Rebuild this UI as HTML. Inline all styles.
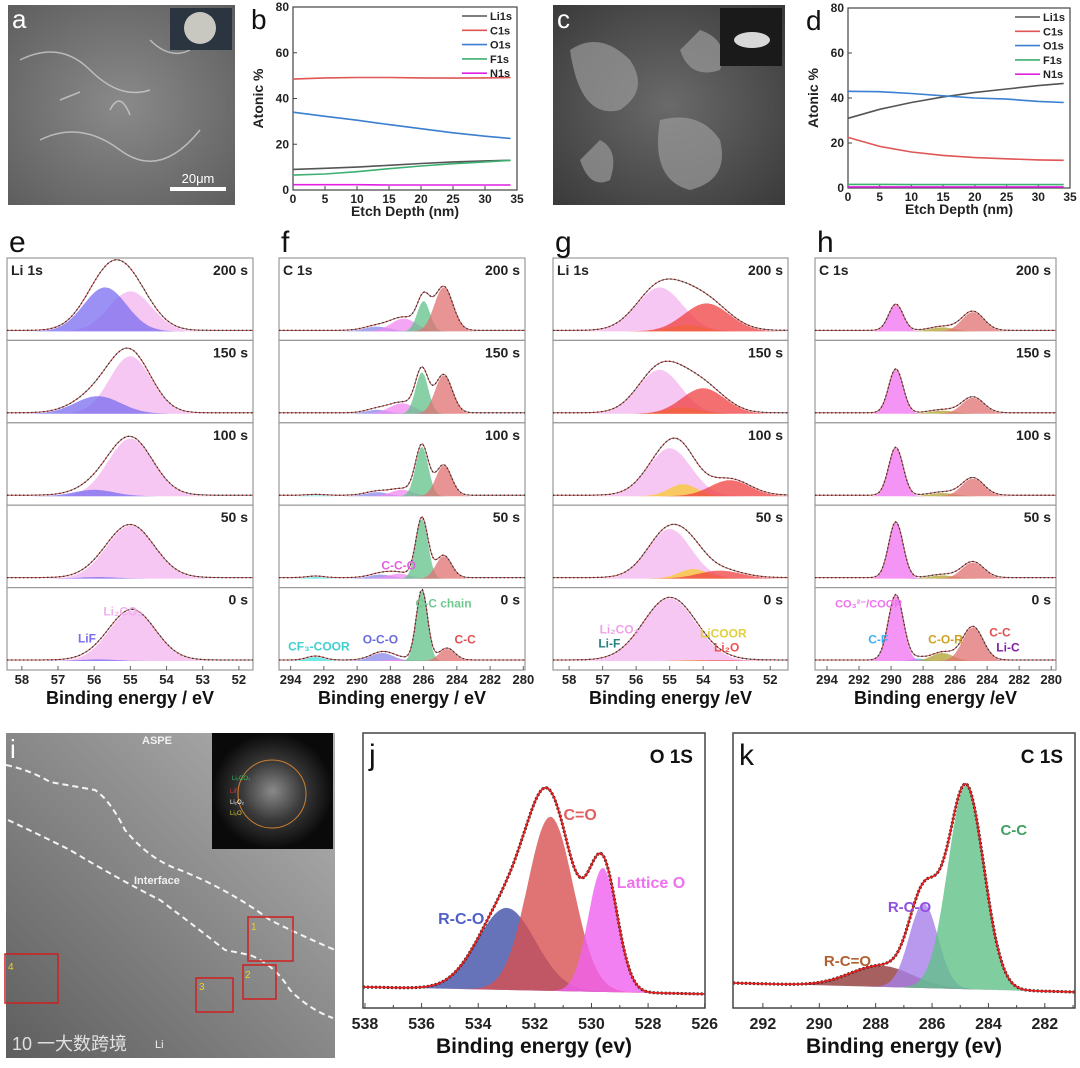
<!DOCTYPE html>
<html><head><meta charset="utf-8">
<style>
html,body{margin:0;padding:0;background:#fff;}
svg{display:block;font-family:"Liberation Sans",Arial,sans-serif;}
</style></head>
<body>
<svg id="fig" width="1080" height="1068" viewBox="0 0 1080 1068" xmlns="http://www.w3.org/2000/svg">
<defs>
<radialGradient id="semA" cx="50%" cy="50%" r="70%"><stop offset="0" stop-color="#8a8a8a"/><stop offset="1" stop-color="#5e5e5e"/></radialGradient>
<radialGradient id="semC" cx="50%" cy="50%" r="70%"><stop offset="0" stop-color="#6a6a6a"/><stop offset="1" stop-color="#3a3a3a"/></radialGradient>
<linearGradient id="temI" x1="1" y1="0" x2="0" y2="1"><stop offset="0" stop-color="#b4b4b4"/><stop offset="0.45" stop-color="#8c8c8c"/><stop offset="1" stop-color="#5e5e5e"/></linearGradient>
<radialGradient id="fft" cx="50%" cy="50%" r="50%"><stop offset="0" stop-color="#8a8a8a"/><stop offset="0.5" stop-color="#3a3a3a"/><stop offset="1" stop-color="#0a0a0a"/></radialGradient>
</defs>

<g>
<rect x="8" y="5" width="227" height="200" fill="url(#semA)"/>
<path d="M20 60 Q60 40 90 70 T150 90 M40 140 Q80 120 120 150 T200 130 M110 110 q10 -20 20 5 M60 100 l20 -8 M150 40 q20 20 40 10" stroke="#d8d8d8" stroke-width="1.5" fill="none" opacity="0.7"/>
<rect x="170" y="8" width="62" height="42" fill="#2a3540"/>
<circle cx="200" cy="28" r="16" fill="#c8c8c0"/>
<rect x="170" y="187" width="56" height="4" fill="#fff"/>
<text x="198" y="183" font-size="13" fill="#fff" text-anchor="middle">20μm</text>
<text x="12" y="28" font-size="26" fill="#fff">a</text>
</g>

<g>
<rect x="553" y="5" width="232" height="200" fill="url(#semC)"/>
<path d="M570 50 q30 -20 60 10 q20 30 -10 50 q-40 10 -50 -60 Z M660 120 q40 -10 60 20 q10 40 -30 50 q-40 -10 -30 -70 Z M600 140 q20 10 10 40 q-20 10 -30 -20 Z M700 30 q30 10 20 40 q-30 10 -40 -20 Z" fill="#9a9a9a" opacity="0.7"/>
<rect x="720" y="8" width="62" height="58" fill="#1a1a1a"/>
<ellipse cx="752" cy="40" rx="18" ry="8" fill="#d8d8d8"/>
<text x="557" y="28" font-size="26" fill="#fff">c</text>
</g>

<g>
<rect x="6" y="733" width="329" height="325" fill="url(#temI)"/>
<path d="M6 765 Q30 770 50 782 L95 790 Q110 800 125 830 Q150 860 180 870 Q230 890 270 920 Q300 935 335 950" stroke="#f4f4f4" stroke-width="2" stroke-dasharray="6,4" fill="none"/>
<path d="M8 820 Q40 835 70 850 Q120 880 160 900 Q200 930 225 950 L250 955 Q275 965 290 990 Q310 1010 333 1018" stroke="#f4f4f4" stroke-width="2" stroke-dasharray="6,4" fill="none"/>
<text x="142" y="744" font-size="11" font-weight="bold" fill="#f0f0f0">ASPE</text>
<text x="134" y="884" font-size="11" font-weight="bold" fill="#f0f0f0">Interface</text>
<text x="155" y="1048" font-size="11" fill="#f0f0f0">Li</text>
<text x="12" y="1050" font-size="18" fill="#fff" opacity="0.8" font-family="'Liberation Sans','Noto Sans CJK SC',sans-serif">10 一大数跨境</text>
<rect x="248" y="917" width="45" height="44" fill="none" stroke="#d02020" stroke-width="1.5"/>
<rect x="243" y="965" width="33" height="34" fill="none" stroke="#d02020" stroke-width="1.5"/>
<rect x="196" y="978" width="37" height="34" fill="none" stroke="#d02020" stroke-width="1.5"/>
<rect x="5" y="954" width="53" height="49" fill="none" stroke="#d02020" stroke-width="1.5"/>
<text x="251" y="930" font-size="10" fill="#f0d020">1</text>
<text x="245" y="978" font-size="10" fill="#f0d020">2</text>
<text x="199" y="990" font-size="10" fill="#f0d020">3</text>
<text x="8" y="970" font-size="10" fill="#f0d020">4</text>
<g>
<rect x="212" y="733" width="121" height="116" fill="url(#fft)"/>
<circle cx="272" cy="794" r="34" fill="none" stroke="#d08030" stroke-width="1"/>
<text x="232" y="780" font-size="6" fill="#30c060">Li₂CO₃</text>
<text x="230" y="793" font-size="6" fill="#e03030">LiF</text>
<text x="230" y="804" font-size="6" fill="#fff">Li₂O₂</text>
<text x="230" y="815" font-size="6" fill="#e0d030">Li₂O</text>
</g>
<text x="10" y="758" font-size="26" fill="#fff">i</text>
</g>

<g id="charts"></g>
</svg>

<script>
const depths = [0, 5, 10, 15, 20, 25, 30, 34];
const bLi = [9, 9.5, 10, 10.8, 11.6, 12.3, 12.7, 13];
const bC = [48.5, 49, 49.2, 49.2, 49, 48.9, 49, 49.2];
const bO = [34, 32.2, 30.5, 28.6, 26.8, 25, 23.5, 22.5];
const bF = [6.5, 7, 8, 9.3, 10.5, 11.5, 12.3, 13];
const bN = [2.3, 2.3, 2.3, 2.2, 2.2, 2.2, 2.2, 2.2];
const dLi = [31, 35, 38, 40.5, 42.5, 44, 45.5, 46.5];
const dC = [22.5, 18.5, 16, 14.5, 13.5, 13, 12.5, 12.3];
const dO = [43, 42.8, 42, 41, 40, 39.5, 38.5, 38];
const dF = [1.6, 1.6, 1.5, 1.5, 1.5, 1.5, 1.5, 1.5];
const dN = [0.5, 0.5, 0.5, 0.5, 0.5, 0.5, 0.5, 0.5];
const depthTicks = [0, 5, 10, 15, 20, 25, 30, 35];
const atomicTicks = [0, 20, 40, 60, 80];
const elementNames = ["Li1s", "C1s", "O1s", "F1s", "N1s"];

const timeLabels = ["200 s", "150 s", "100 s", "50 s", "0 s"];
const liTicks = [58, 57, 56, 55, 54, 53, 52];
const cTicks = [294, 292, 290, 288, 286, 284, 282, 280];
const eLiF = [[55.7, 0.55, 1.4], [55.9, 0.22, 1.5], [56.0, 0.08, 1.3], [55.9, 0.02, 1.2], [55.9, 0.02, 1.2]];
const eLi2CO3 = [[55.0, 0.5, 1.4], [55.0, 0.72, 1.35], [55.0, 0.72, 1.45], [55.0, 0.66, 1.55], [54.95, 0.63, 1.5]];
const fCC = [[284.8, 0.55, 1.3], [284.8, 0.48, 1.2], [284.8, 0.38, 1.1], [284.8, 0.28, 1.1], [284.6, 0.15, 1.1]];
const fChain = [[286.0, 0.38, 0.9], [286.1, 0.52, 0.9], [286.1, 0.62, 0.9], [286.1, 0.75, 0.85], [286.1, 0.88, 0.8]];
const fCCO = [[287.2, 0.16, 1.8], [287.3, 0.13, 1.8], [287.3, 0.08, 1.6], [287.5, 0.06, 1.6], [287.5, 0.02, 1.6]];
const fOCO = [[288.8, 0.06, 1.8], [288.8, 0.05, 1.6], [288.8, 0.05, 1.6], [288.6, 0.05, 1.6], [288.5, 0.1, 1.6]];
const fCF3 = [[292.5, 0.0, 1.2], [292.5, 0.0, 1.2], [292.5, 0.01, 1.2], [292.5, 0.02, 1.2], [292.5, 0.05, 1.2]];
const gLi2CO3 = [[55.3, 0.55, 1.6], [55.3, 0.55, 1.5], [55.0, 0.6, 1.5], [55.0, 0.62, 1.5], [55.0, 0.78, 1.85]];
const gLi2O = [[53.9, 0.35, 1.6], [54.0, 0.32, 1.5], [53.2, 0.2, 1.4], [53.5, 0.1, 1.5], [53.5, 0.01, 1.5]];
const gLiCOOR = [[54.5, 0.08, 1.2], [54.6, 0.08, 1.2], [54.6, 0.15, 1.0], [54.3, 0.12, 1.0], [54.3, 0.01, 1.0]];
const hCO3 = [[289.7, 0.33, 1.05], [289.7, 0.55, 1.05], [289.7, 0.6, 1.05], [289.7, 0.7, 1.05], [289.7, 0.82, 1.1]];
const hCC = [[284.9, 0.24, 1.6], [284.9, 0.2, 1.6], [284.9, 0.22, 1.6], [284.9, 0.2, 1.6], [284.9, 0.42, 1.5]];
const hCOR = [[286.8, 0.05, 1.8], [286.8, 0.04, 1.8], [286.8, 0.04, 1.8], [286.8, 0.04, 1.8], [286.8, 0.1, 1.6]];
const hCF = [[288.3, 0.0, 1.0], [288.3, 0.0, 1.0], [288.3, 0.0, 1.0], [288.3, 0.0, 1.0], [288.3, 0.03, 1.0]];
const jTicks = [538, 536, 534, 532, 530, 528, 526];
const jRCO = [533.0, 0.41, 2.4];
const jCO = [531.45, 0.87, 1.9];
const jLattice = [529.6, 0.62, 1.2];
const kTicks = [292, 290, 288, 286, 284, 282];
const kCC = [284.8, 0.96, 1.5];
const kRCO = [286.3, 0.4, 1.2];
const kRCdO = [287.8, 0.1, 2.6];

const NS = "http://www.w3.org/2000/svg";
const root = document.getElementById("charts");
function mk(tag, attrs, parent) {
  const e = document.createElementNS(NS, tag);
  for (const k in attrs) e.setAttribute(k, attrs[k]);
  (parent || root).appendChild(e);
  return e;
}
function txt(x, y, s, size, attrs, parent) {
  const a = Object.assign({x: x, y: y, "font-size": size, "font-weight": "bold", fill: "#222"}, attrs || {});
  const t = mk("text", a, parent);
  t.textContent = s;
  return t;
}
function gauss(x, p) { return p[1] * Math.exp(-4 * Math.LN2 * (x - p[0]) * (x - p[0]) / (p[2] * p[2])); }

function lineChart(name, x0, x1, y0, y1, series, colors, letter) {
  const g = mk("g", {});
  
  
  const sx = v => x0 + (v - 0) / 35 * (x1 - x0);
  const sy = v => y1 - v / 80 * (y1 - y0);
  const frame = mk("rect", {x: x0, y: y0, width: x1 - x0, height: y1 - y0, fill: "none", stroke: "#444", "stroke-width": 1.2}, g);
  
  
  depthTicks.forEach(t => {
    mk("line", {x1: sx(t), x2: sx(t), y1: y1, y2: y1 - 4, stroke: "#444"}, g);
    const lb = txt(sx(t), y1 + 13, String(t), 12, {"text-anchor": "middle"}, g);
    
    
  });
  atomicTicks.forEach(t => {
    mk("line", {x1: x0, x2: x0 + 4, y1: sy(t), y2: sy(t), stroke: "#444"}, g);
    const lb = txt(x0 - 4, sy(t) + 4, String(t), 12, {"text-anchor": "end"}, g);
    
    
  });
  const xt = txt((x0 + x1) / 2, y1 + 26, "Etch Depth (nm)", 14, {"text-anchor": "middle"}, g);
  
  
  const yt = txt(0, 0, "Atonic %", 14, {"text-anchor": "middle", transform: "translate(" + (x0 - 30) + "," + ((y0 + y1) / 2) + ") rotate(-90)"}, g);
  
  
  series.forEach((s, i) => {
    const d = s.map((v, j) => (j ? "L" : "M") + sx(depths[j]).toFixed(1) + " " + sy(v).toFixed(1)).join(" ");
    const p = mk("path", {d: d, fill: "none", stroke: colors[i], "stroke-width": 1.6}, g);
    
    
    const ly = y0 + 9 + i * 14.3;
    const ll = mk("line", {x1: x1 - 55, x2: x1 - 30, y1: ly, y2: ly, stroke: colors[i], "stroke-width": 1.6}, g);
    
    
    const lt = txt(x1 - 27, ly + 4, elementNames[i], 11, {}, g);
    
    
  });
  const L = txt(x0 - 42, y0 + 22, letter, 28, {"font-weight": "normal", fill: "#111"}, g);
  
  
}
const lineColors = ["#555555", "#e05555", "#3a7fd0", "#3cb070", "#e020e0"];
lineChart("panel-b-chart", 293, 517, 7, 190, [bLi, bC, bO, bF, bN], lineColors, "b");
lineChart("panel-d-chart", 848, 1070, 8, 188, [dLi, dC, dO, dF, dN], lineColors, "d");

const subTop = 258, subH = 82.4;
function xpsPanel(name, x0, x1, eL, eR, ticks, comps, colors, title, letter, xlabel, scale) {
  const g = mk("g", {});
  
  
  const sx = v => x0 + (eL - v) / (eL - eR) * (x1 - x0);
  for (let r = 0; r < 5; r++) {
    const top = subTop + r * subH, base = top + subH - 9;
    const box = mk("rect", {x: x0, y: top, width: x1 - x0, height: subH, fill: "#fff", stroke: "#999", "stroke-width": 1.2}, g);
    
    
    const N = 120;
    const env = [];
    for (let k = 0; k <= N; k++) env.push(0);
    comps.forEach((c, ci) => {
      const p = c[r];
      if (p[1] <= 0) return;
      let d = "M" + x0 + " " + base;
      for (let k = 0; k <= N; k++) {
        const e = eL - (eL - eR) * k / N;
        const v = gauss(e, p);
        env[k] += v;
        d += " L" + sx(e).toFixed(1) + " " + (base - v * scale).toFixed(1);
      }
      d += " L" + x1 + " " + base + " Z";
      const pk = mk("path", {d: d, fill: colors[ci], "fill-opacity": 0.75, stroke: "none"}, g);
      
      
    });
    let d = "";
    for (let k = 0; k <= N; k++) {
      const e = eL - (eL - eR) * k / N;
      d += (k ? " L" : "M") + sx(e).toFixed(1) + " " + (base - env[k] * scale - 1).toFixed(1);
    }
    const fit = mk("path", {d: d, fill: "none", stroke: "#c05050", "stroke-width": 1}, g);
    
    
    const raw = mk("path", {d: d, fill: "none", stroke: "#333", "stroke-width": 1.3, "stroke-dasharray": "1.5,2.5"}, g);
    
    
    const tl = txt(x1 - 5, top + 17, timeLabels[r], 14, {"text-anchor": "end"}, g);
    
    
  }
  const t = txt(x0 + 4, subTop + 17, title, 14, {}, g);
  
  
  const bottom = subTop + 5 * subH;
  ticks.forEach(v => {
    mk("line", {x1: sx(v), x2: sx(v), y1: bottom, y2: bottom - 4, stroke: "#666"}, g);
    const lb = txt(sx(v), bottom + 14, String(v), 13, {"text-anchor": "middle"}, g);
    
    
  });
  const xt = txt((x0 + x1) / 2, bottom + 34, xlabel, 18, {"text-anchor": "middle", fill: "#111"}, g);
  
  
  const L = txt(x0 + 2, subTop - 6, letter, 30, {"font-weight": "normal", fill: "#111"}, g);
  
  
  return {sx: sx, bottom: bottom, g: g};
}
const pe = xpsPanel("panel-e-li1s", 7, 253, 58.41, 51.61, liTicks, [eLi2CO3, eLiF], ["#f4b4f0", "#7a6cf0"], "Li 1s", "e", "Binding energy / eV", 80);
const pf = xpsPanel("panel-f-c1s", 279, 525, 294.7, 279.9, cTicks, [fCF3, fOCO, fCCO, fChain, fCC], ["#40e0e0", "#8888e8", "#f088f0", "#60c088", "#e07070"], "C 1s", "f", "Binding energy / eV", 80);
const pg = xpsPanel("panel-g-li1s", 553, 788, 58.48, 51.47, liTicks, [gLi2CO3, gLiCOOR, gLi2O], ["#f4b4f0", "#f8c830", "#f04040"], "Li 1s", "g", "Binding energy /eV", 80);
const ph = xpsPanel("panel-h-c1s", 815, 1056, 294.75, 279.7, cTicks, [hCF, hCOR, hCC, hCO3], ["#40b0f0", "#b0a030", "#e07070", "#f070f0"], "C 1s", "h", "Binding energy /eV", 80);

function ann(x, y, s, color, size) {
  const t = txt(x, y, s, size || 12, {fill: color, "text-anchor": "middle"});
  
  
}
const b0 = subTop + 4 * subH;
ann(pe.sx(55.2), b0 + 28, "Li₂CO₃", "#f0b0f0");
ann(pe.sx(56.2), b0 + 55, "LiF", "#7a6cf0");
ann(pf.sx(287.5), b0 - 18, "C-C-O", "#e060e0");
ann(pf.sx(284.8), b0 + 20, "C-C chain", "#70c890");
ann(pf.sx(288.6), b0 + 56, "O-C-O", "#6a6ae0");
ann(pf.sx(292.3), b0 + 63, "CF₃-COOR", "#40d0d0");
ann(pf.sx(283.5), b0 + 56, "C-C", "#e05050");
ann(pg.sx(56.5), b0 + 46, "Li₂CO₃", "#f0a0e8");
ann(pg.sx(56.8), b0 + 60, "Li-F", "#208080");
ann(pg.sx(53.4), b0 + 50, "LiCOOR", "#e0d040");
ann(pg.sx(53.3), b0 + 64, "Li₂O", "#f05050");
ann(ph.sx(291.4), b0 + 20, "CO₃²⁻/COOR", "#f070f0", 11);
ann(ph.sx(290.8), b0 + 56, "C-F", "#40b0f0");
ann(ph.sx(286.6), b0 + 56, "C-O-R", "#d0a020");
ann(ph.sx(283.2), b0 + 49, "C-C", "#e05050");
ann(ph.sx(282.7), b0 + 64, "Li-C", "#8020a0");

function single(name, x0, x1, y0, y1, eL, eR, ticks, comps, colors, baseL, baseR, scale, title, letter) {
  const g = mk("g", {});
  
  
  const sx = v => x0 + (eL - v) / (eL - eR) * (x1 - x0);
  const bl = v => baseL + (baseR - baseL) * (eL - v) / (eL - eR);
  const N = 200;
  const env = [];
  for (let k = 0; k <= N; k++) env.push(0);
  comps.forEach((p, ci) => {
    let d = "M" + x0 + " " + bl(eL);
    for (let k = 0; k <= N; k++) {
      const e = eL - (eL - eR) * k / N;
      const v = gauss(e, p);
      env[k] += v;
      d += " L" + sx(e).toFixed(1) + " " + (bl(e) - v * scale).toFixed(1);
    }
    d += " L" + x1 + " " + bl(eR) + " Z";
    const pk = mk("path", {d: d, fill: colors[ci], "fill-opacity": 0.8}, g);
    
    
  });
  let d = "";
  for (let k = 0; k <= N; k++) {
    const e = eL - (eL - eR) * k / N;
    d += (k ? " L" : "M") + sx(e).toFixed(1) + " " + (bl(e) - env[k] * scale).toFixed(1);
  }
  const raw = mk("path", {d: d, fill: "none", stroke: "#222", "stroke-width": 3, "stroke-dasharray": "2,2"}, g);
  
  
  const fit = mk("path", {d: d, fill: "none", stroke: "#e02020", "stroke-width": 1.8}, g);
  
  
  const frame = mk("rect", {x: x0, y: y0, width: x1 - x0, height: y1 - y0, fill: "none", stroke: "#444", "stroke-width": 1.5}, g);
  
  
  ticks.forEach(v => {
    mk("line", {x1: sx(v), x2: sx(v), y1: y1, y2: y1 - 5, stroke: "#444"}, g);
    mk("line", {x1: sx(v - 1), x2: sx(v - 1), y1: y1, y2: y1 - 3, stroke: "#444"}, g);
    const lb = txt(sx(v), y1 + 21, String(v), 16, {"text-anchor": "middle"}, g);
    
    
  });
  const xt = txt((x0 + x1) / 2, y1 + 45, "Binding energy (ev)", 21, {"text-anchor": "middle", fill: "#111"}, g);
  
  
  const tt = txt(x1 - 12, y0 + 30, title, 19, {"text-anchor": "end", fill: "#111"}, g);
  
  
  const L = txt(x0 + 6, y0 + 32, letter, 30, {"font-weight": "normal", fill: "#111"}, g);
  
  
  return sx;
}
const sj = single("panel-j-o1s", 363, 705, 733, 1008, 538.07, 525.99, jTicks, [jRCO, jCO, jLattice], ["#4050a8", "#d85050", "#f060f0"], 987, 994, 200, "O 1S", "j");
const sk = single("panel-k-c1s", 733, 1075, 733, 1008, 293.06, 280.93, kTicks, [kRCdO, kRCO, kCC], ["#903838", "#a880e8", "#60c088"], 983, 992, 212, "C 1S", "k");
ann(sj(534.6), 924, "R-C-O", "#5060c8", 16);
ann(sj(530.4), 820, "C=O", "#e06060", 16);
ann(sj(527.9), 888, "Lattice O", "#f070f0", 16);
ann(sk(286.8), 912, "R-C-O", "#9050e0", 15);
ann(sk(289.0), 966, "R-C=O", "#b06030", 15);
ann(sk(283.1), 835, "C-C", "#40a060", 15);
</script>
</body></html>
